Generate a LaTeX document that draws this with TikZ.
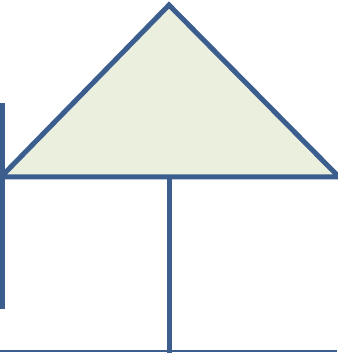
\documentclass[tikz,border=0pt]{standalone}
\usepackage{xcolor}
\definecolor{edgeblue}{HTML}{3B5E8F}
\definecolor{roofgreen}{HTML}{EBF0DE}
\tikzset{
    wall/.style={draw=edgeblue, line width=5pt},
    floorline/.style={draw=edgeblue, line width=2pt}
}
\begin{document}
\begin{tikzpicture}[x=1pt, y=1pt]
    \useasboundingbox (0,0) rectangle (337,353);
    % Points
    \coordinate (apex) at (169,348);
    \coordinate (eaveL) at (1,176);
    \coordinate (eaveR) at (339,176);
    \coordinate (postT) at (169,176);
    \coordinate (postB) at (169,0);
    \coordinate (sideT) at (2.5,250);
    \coordinate (sideB) at (2.5,44);
    \coordinate (floorL) at (0,2);
    \coordinate (floorR) at (337,2);

    % Roof
    \filldraw[wall, fill=roofgreen] (eaveL) -- (apex) -- (eaveR) -- cycle;

    % Lines
    \draw[wall] (sideT) -- (sideB);
    \draw[wall] (postT) -- (postB);
    \draw[floorline] (floorL) -- (floorR);
\end{tikzpicture}
\end{document}
